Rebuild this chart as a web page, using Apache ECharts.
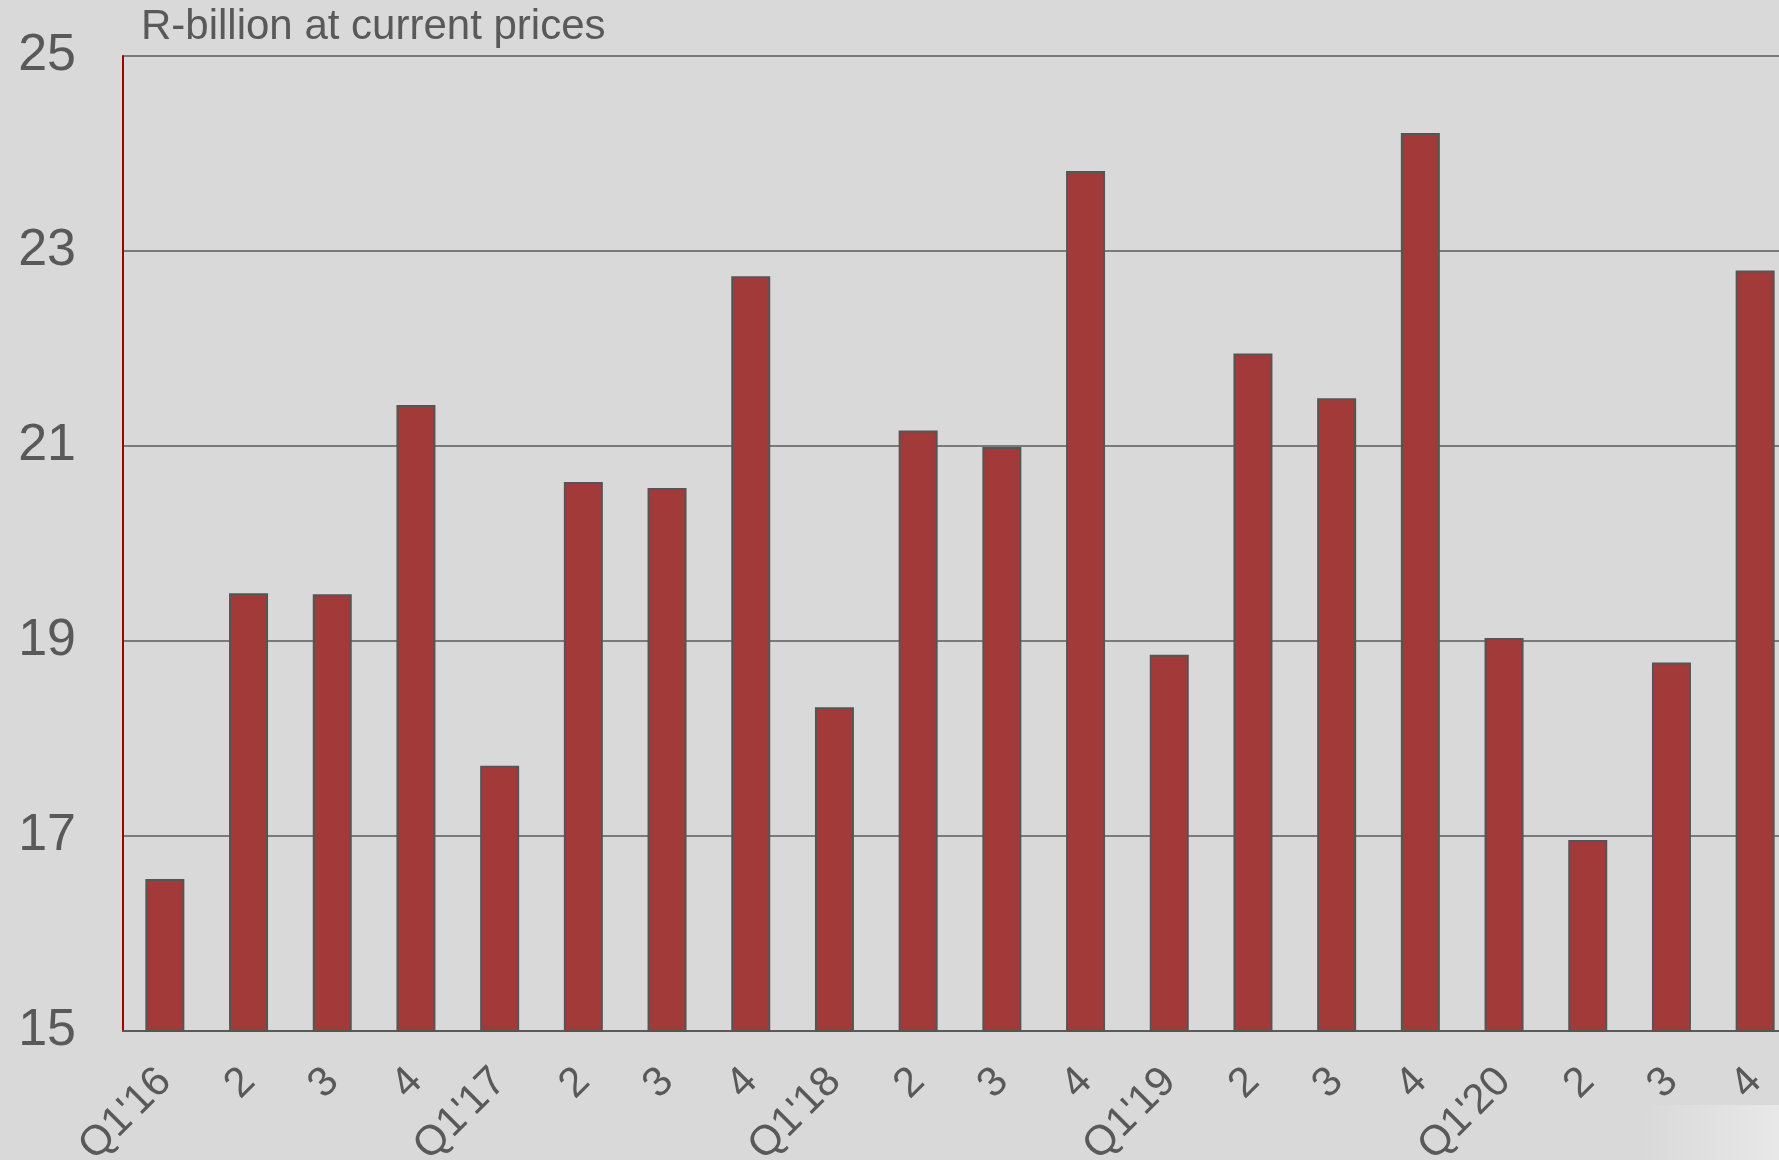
<!DOCTYPE html>
<html>
<head>
<meta charset="utf-8">
<script src="https://cdn.jsdelivr.net/npm/echarts@6/dist/echarts.min.js"></script>
<style>
  html, body { margin: 0; padding: 0; background: #d9d9d9; }
  #chart { width: 1779px; height: 1160px; }
</style>
</head>
<body>
<div id="chart"></div>
<script>
// quarterly values, R-billion at current prices
const quarters = ["Q1'16", "2", "3", "4", "Q1'17", "2", "3", "4", "Q1'18", "2", "3", "4",
                  "Q1'19", "2", "3", "4", "Q1'20", "2", "3", "4"];
const values = [16.56, 19.49, 19.48, 21.42, 17.72, 20.63, 20.57, 22.74, 18.32, 21.16,
                20.99, 23.82, 18.86, 21.95, 21.49, 24.21, 19.03, 16.96, 18.78, 22.80];
const yTicks = [15, 17, 19, 21, 23, 25];

let myChart = echarts.init(document.getElementById('chart'));
myChart.setOption({
  backgroundColor: '#d9d9d9',
  animation: false,
  textStyle: { fontFamily: 'Liberation Sans, Arial, sans-serif' },
  graphic: [
    {
      type: 'rect',
      silent: true,
      z: -1,
      shape: { x: 1643, y: 1105, width: 136, height: 55 },
      style: {
        fill: {
          type: 'linear', x: 0, y: 0, x2: 1, y2: 0,
          colorStops: [{ offset: 0, color: '#d9d9d9' }, { offset: 1, color: '#e8e8e8' }]
        }
      }
    },
    {
      type: 'text',
      left: 141,
      top: 6,
      style: {
        text: 'R-billion at current prices',
        fill: '#595959',
        font: '42px "Liberation Sans", Arial, sans-serif'
      }
    }
  ],
  grid: {
    left: 123,
    top: 56,
    width: 1674,
    height: 975,
    containLabel: false,
    outerBoundsMode: 'none'
  },
  xAxis: {
    type: 'category',
    data: quarters,
    axisLine: { show: true, lineStyle: { color: '#595959', width: 2 } },
    axisTick: { show: false },
    axisLabel: {
      rotate: 45,
      interval: 0,
      margin: 44,
      color: '#595959',
      fontSize: 42
    }
  },
  yAxis: {
    type: 'value',
    min: yTicks[0],
    max: yTicks[yTicks.length - 1],
    interval: 2,
    axisLine: { show: true, lineStyle: { color: '#a00000', width: 2 } },
    axisTick: { show: false },
    axisLabel: {
      margin: 47,
      color: '#595959',
      fontSize: 52
    },
    splitLine: { show: true, lineStyle: { color: '#7a7a7a', width: 2 } }
  },
  series: [{
    type: 'bar',
    data: values,
    barWidth: 39,
    itemStyle: {
      color: '#a33a3a',
      borderColor: '#555555',
      borderWidth: 2
    }
  }]
});
window.addEventListener('resize', function () {
  myChart.resize();
});
</script>
</body>
</html>
